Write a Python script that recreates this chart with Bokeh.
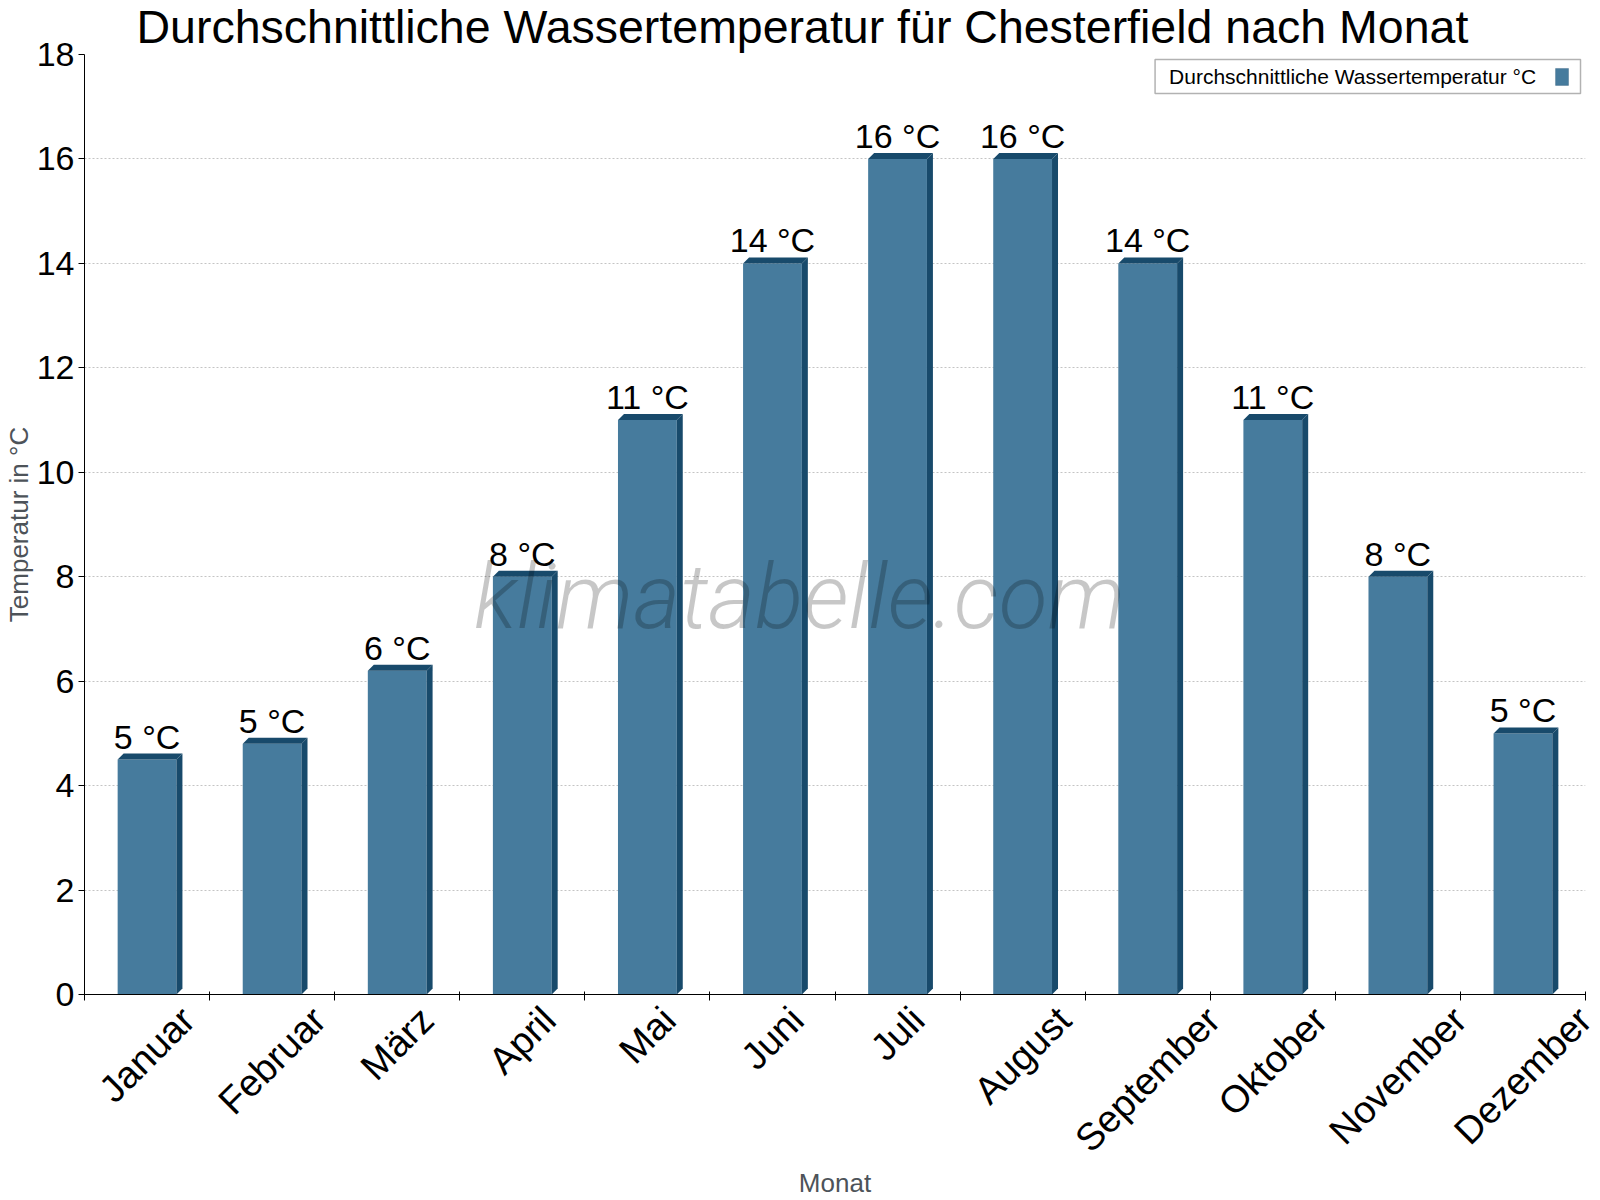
import math
from bokeh.plotting import figure
from bokeh.models import (Range1d, FixedTicker, CustomJSTickFormatter, Label,
                          BoxAnnotation, ColumnDataSource)
from bokeh.core.properties import value
from bokeh.embed import file_html
from bokeh.resources import INLINE

# ---------------- data ----------------
months = ["Januar", "Februar", "März", "April", "Mai", "Juni", "Juli",
          "August", "September", "Oktober", "November", "Dezember"]
water_temp = [4.5, 4.8, 6.2, 8.0, 11.0, 14.0, 16.0, 16.0, 14.0, 11.0, 8.0, 5.0]
value_labels = ["5 °C", "5 °C", "6 °C", "8 °C", "11 °C", "14 °C", "16 °C",
                "16 °C", "14 °C", "11 °C", "8 °C", "5 °C"]
y_ticks = [0, 2, 4, 6, 8, 10, 12, 14, 16, 18]
title_text = "Durchschnittliche Wassertemperatur für Chesterfield nach Monat"
series_name = "Durchschnittliche Wassertemperatur °C"
y_label = "Temperatur in °C"
x_label = "Monat"
watermark = "klimatabelle.com"

# ---------------- layout ----------------
W, H = 1600, 1200
BL, BR, BT, BB = 82, 15, 53, 205
FW, FH = W - BL - BR, H - BT - BB
N = len(months)
YMAX = 18
CW = FW / N          # px per category
UH = FH / YMAX       # px per degree

def fx(px):
    return (px - BL) / CW

def fy(py):
    return (H - BB - py) / UH

FONT = "Liberation Sans"
FACE = "#467B9D"
DARK = "#184A6B"
XLAB_PX = 38

# approximate Arial advance widths (em) to centre rotated month labels
ARIAL = {"J": .5, "a": .556, "n": .556, "u": .556, "r": .333, "F": .611, "e": .556,
         "b": .556, "M": .833, "ä": .556, "z": .5, "p": .556, "i": .222, "l": .222,
         "A": .667, "g": .556, "s": .5, "t": .278, "S": .667, "m": .833, "O": .778,
         "k": .5, "o": .556, "N": .722, "v": .5, "D": .722}

def text_w(s, px):
    return sum(ARIAL.get(c, .556) for c in s) * px

p = figure(width=W, height=H, output_backend="svg", toolbar_location=None,
           x_range=Range1d(0, N), y_range=Range1d(0, YMAX),
           min_border_left=BL, min_border_right=BR, min_border_top=BT,
           min_border_bottom=BB)
p.outline_line_color = None
p.background_fill_color = "white"
p.border_fill_color = "white"

# title
p.title.text = title_text
p.title.text_font = FONT
p.title.text_font_size = "46.5px"
p.title.text_font_style = "normal"
p.title.text_color = "black"
p.title.align = "left"
p.title.vertical_align = "top"
p.title.offset = 134 - BL
p.title.standoff = 0

centers = [i + 0.5 for i in range(N)]
bw = 0.47
dx = 6 / CW
dy = 6 / UH

src = ColumnDataSource(dict(x=centers, top=water_temp, lab=value_labels,
                            ly=[v + 23 / UH for v in water_temp]))
p.vbar(x="x", top="top", width=bw, source=src, fill_color=FACE, line_color=None)

top_xs, top_ys, side_xs, side_ys = [], [], [], []
for c, v in zip(centers, water_temp):
    x0, x1 = c - bw / 2, c + bw / 2
    top_xs.append([x0, x0 + dx, x1 + dx, x1])
    top_ys.append([v, v + dy, v + dy, v])
    side_xs.append([x1, x1 + dx, x1 + dx, x1])
    side_ys.append([v, v + dy, dy, 0])
p.patches(top_xs, top_ys, fill_color=DARK, line_color=None)
p.patches(side_xs, side_ys, fill_color=DARK, line_color=None)

p.text(x="x", y="ly", text="lab", source=src, text_align="center",
       text_baseline="middle", text_font=value(FONT),
       text_font_size="34px", text_color="black")

# axes
label_pos = [c + text_w(m, XLAB_PX) / (2 * math.sqrt(2)) / CW
             for c, m in zip(centers, months)]
xa = p.xaxis[0]
xa.ticker = FixedTicker(ticks=label_pos, minor_ticks=list(range(N + 1)))
xa.formatter = CustomJSTickFormatter(
    args=dict(months=months, pos=label_pos),
    code="""
    let best = 0, bd = Infinity;
    for (let j = 0; j < pos.length; j++) {
        const d = Math.abs(pos[j] - tick);
        if (d < bd) { bd = d; best = j; }
    }
    return months[best];
    """)
xa.major_label_orientation = math.pi / 4
xa.major_label_text_font = FONT
xa.major_label_text_font_size = f"{XLAB_PX}px"
xa.major_label_text_color = "black"
xa.major_label_standoff = 13
xa.major_tick_out = 0
xa.major_tick_in = 0
xa.minor_tick_out = 6
xa.minor_tick_in = 3
xa.minor_tick_line_color = "black"
xa.axis_line_color = "black"
xa.axis_label = x_label
xa.axis_label_text_font = FONT
xa.axis_label_text_font_size = "26px"
xa.axis_label_text_font_style = "normal"
xa.axis_label_text_color = "#4D5359"
xa.axis_label_standoff = -10

ya = p.yaxis[0]
ya.ticker = FixedTicker(ticks=y_ticks)
ya.major_label_text_font = FONT
ya.major_label_text_font_size = "34px"
ya.major_label_text_color = "black"
ya.major_label_standoff = 4
ya.major_tick_out = 6
ya.major_tick_in = 0
ya.minor_tick_line_color = None
ya.axis_line_color = "black"
ya.major_tick_line_color = "black"
ya.axis_label = y_label
ya.axis_label_text_font = FONT
ya.axis_label_text_font_size = "26px"
ya.axis_label_text_font_style = "normal"
ya.axis_label_text_color = "#4D5359"
ya.axis_label_standoff = 0

p.xgrid.visible = False
p.ygrid.grid_line_color = "#c4c4c4"
p.ygrid.grid_line_dash = "2 2"
p.ygrid.grid_line_width = 1

# watermark
p.add_layout(Label(x=fx(798), y=fy(597), text=watermark, text_align="center",
                   text_baseline="middle", text_font="Roboto Light",
                   text_font_style="italic", text_font_size="90px",
                   text_color="black", text_alpha=0.22))

# legend (text then swatch)
p.add_layout(BoxAnnotation(left=fx(1154), right=fx(1580), top=fy(58), bottom=fy(92),
                           fill_color="white", fill_alpha=1.0, line_color="black",
                           line_width=1.5))
p.add_layout(Label(x=fx(1168), y=fy(75), text=series_name, text_align="left",
                   text_baseline="middle", text_font=FONT, text_font_size="21px",
                   text_color="black"))
p.add_layout(BoxAnnotation(left=fx(1555), right=fx(1568), top=fy(67), bottom=fy(84),
                           fill_color=FACE, fill_alpha=1.0, line_color=DARK,
                           line_width=1))

open("out.html", "w").write(file_html(p, INLINE))
